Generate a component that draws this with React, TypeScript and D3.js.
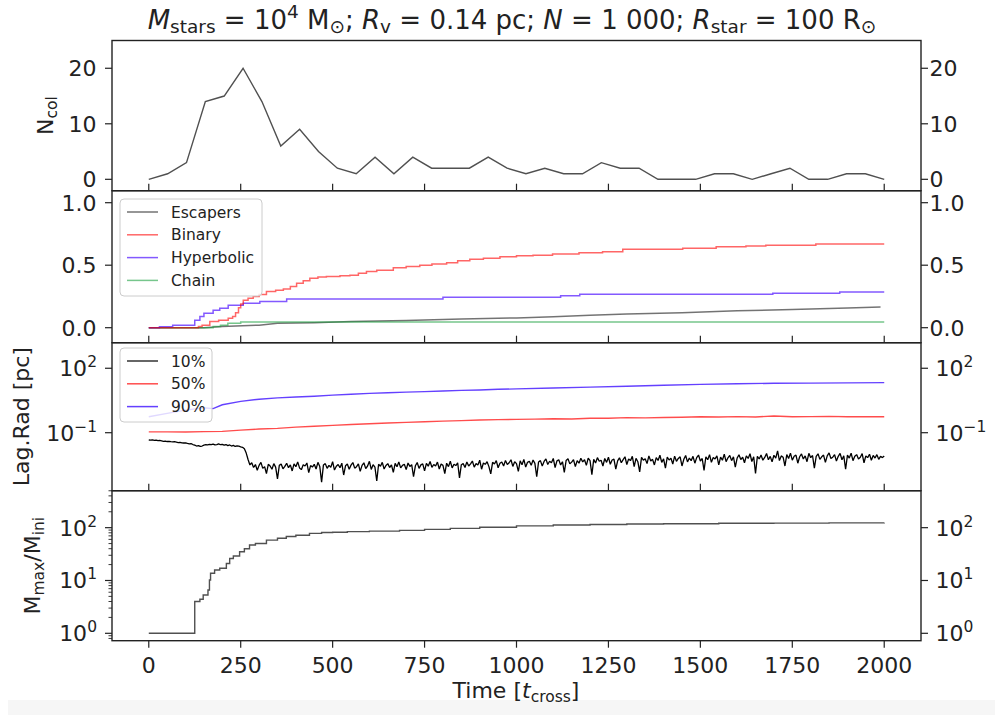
import React from 'react';
import * as d3 from 'd3';

const FONT = '"DejaVu Sans", sans-serif';

// collisions per time bin (40 bins from 0 to 2000)
const ncolCounts = [0, 1, 3, 14, 15, 20, 14, 6, 9, 5, 2, 1, 4, 1, 4, 2, 2, 2, 4, 2, 1, 2, 1, 1, 3, 2, 2, 0, 0, 0, 1, 1, 0, 1, 2, 0, 0, 1, 1, 0];

// cumulative fractions [time, fraction]
const escapers: [number, number][] = [
  [0, 0], [150, 0], [200, 0.01], [300, 0.02], [350, 0.035], [450, 0.04], [550, 0.05], [700, 0.058],
  [850, 0.07], [1000, 0.078], [1100, 0.088], [1200, 0.1], [1300, 0.11], [1450, 0.12], [1600, 0.135],
  [1750, 0.145], [1900, 0.158], [1990, 0.165],
];
const binary: [number, number][] = [
  [0, 0], [125, 0], [135, 0.01], [145, 0.02], [166, 0.05], [190, 0.06], [216, 0.075], [228, 0.09],
  [236, 0.12], [244, 0.16], [250, 0.19], [257, 0.22], [270, 0.235], [284, 0.25], [300, 0.265],
  [320, 0.29], [345, 0.3], [366, 0.31], [385, 0.33], [402, 0.355], [420, 0.375], [438, 0.395],
  [460, 0.405], [483, 0.41], [520, 0.415], [547, 0.42], [570, 0.435], [592, 0.45], [620, 0.46],
  [665, 0.48], [700, 0.49], [737, 0.5], [770, 0.51], [810, 0.52], [840, 0.535], [873, 0.547],
  [910, 0.555], [955, 0.568], [1000, 0.575], [1045, 0.58], [1098, 0.59], [1170, 0.6], [1234, 0.608],
  [1289, 0.627], [1452, 0.635], [1543, 0.648], [1624, 0.653], [1678, 0.66], [1814, 0.67], [2000, 0.67],
];
const hyperbolic: [number, number][] = [
  [0, 0], [29, 0.008], [65, 0.02], [125, 0.06], [139, 0.09], [150, 0.115], [175, 0.14], [193, 0.155],
  [216, 0.18], [257, 0.195], [302, 0.21], [375, 0.23], [800, 0.243], [1120, 0.255], [1172, 0.267],
  [1697, 0.275], [1879, 0.285], [2000, 0.285],
];
const chain: [number, number][] = [
  [0, 0], [160, 0], [175, 0.01], [195, 0.02], [215, 0.035], [250, 0.045], [2000, 0.045],
];

// 10% lagrangian radius, log10(r / pc), sampled every 5 t_cross from 0 to 2000
const lag10Log = [
  -1.34, -1.35, -1.33, -1.36, -1.35, -1.37, -1.36, -1.38, -1.40, -1.39, -1.41, -1.40, -1.42, -1.43, -1.42, -1.44, -1.46, -1.45, -1.47, -1.48,
  -1.47, -1.50, -1.52, -1.51, -1.55, -1.58, -1.62, -1.60, -1.64, -1.62, -1.58, -1.56, -1.57, -1.54, -1.56, -1.53, -1.57, -1.55, -1.52, -1.56,
  -1.54, -1.58, -1.55, -1.60, -1.57, -1.62, -1.59, -1.64, -1.61, -1.63, -1.66, -1.68, -1.75, -1.95, -2.25, -2.50,
  -2.40, -2.62, -2.48, -2.75, -2.52, -2.38, -2.66, -2.58, -2.90, -2.47, -2.55, -2.70, -2.44, -2.60, -3.15, -2.52, -2.46, -2.68, -2.57, -2.42,
  -2.63, -2.50, -2.78, -2.45, -2.58, -2.36, -2.64, -2.72, -2.49, -2.55, -2.41, -2.86, -2.53, -2.60, -2.47, -2.69, -2.38, -2.57, -3.30, -2.50,
  -2.44, -2.66, -2.52, -2.61, -2.35, -2.74, -2.56, -2.48, -2.63, -2.42, -2.97, -2.54, -2.46, -2.70, -2.51, -2.39, -2.65, -2.58, -2.45, -2.80,
  -2.52, -2.40, -2.67, -2.55, -2.33, -2.71, -2.49, -2.60, -3.25, -2.47, -2.56, -2.38, -2.69, -2.53, -2.44, -2.62, -2.50, -2.85, -2.43, -2.58,
  -2.36, -2.64, -2.52, -2.47, -2.72, -2.41, -2.57, -2.49, -3.05, -2.54, -2.39, -2.66, -2.50, -2.45, -2.78, -2.43, -2.56, -2.34, -2.61, -2.48,
  -2.55, -2.37, -2.69, -2.46, -2.52, -2.90, -2.42, -2.58, -2.33, -2.64, -2.47, -2.53, -2.40, -3.10, -2.49, -2.44, -2.62, -2.36, -2.55, -2.45,
  -2.32, -2.60, -2.44, -2.50, -2.28, -2.70, -2.41, -2.47, -2.35, -2.58, -2.92, -2.38, -2.46, -2.30, -2.63, -2.42, -2.36, -2.55, -2.29, -2.48,
  -2.40, -2.26, -2.57, -2.35, -2.44, -2.80, -2.31, -2.49, -2.24, -2.60, -2.38, -2.33, -2.52, -2.27, -2.43, -3.05, -2.36, -2.30, -2.55, -2.34,
  -2.22, -2.48, -2.33, -2.40, -2.20, -2.62, -2.31, -2.26, -2.50, -2.35, -2.85, -2.29, -2.21, -2.45, -2.37, -2.25, -2.58, -2.30, -2.42, -2.19,
  -2.36, -2.26, -2.52, -2.18, -2.30, -2.95, -2.24, -2.41, -2.16, -2.33, -2.28, -2.55, -2.20, -2.38, -2.14, -2.47, -2.27, -2.23, -2.70, -2.31,
  -2.17, -2.40, -2.25, -2.12, -2.48, -2.22, -2.30, -2.10, -2.58, -2.19, -2.35, -2.82, -2.15, -2.28, -2.21, -2.44, -2.08, -2.32, -2.24, -2.50,
  -2.16, -2.29, -2.05, -2.38, -2.22, -2.65, -2.14, -2.27, -2.19, -2.46, -2.09, -2.33, -2.20, -2.12, -2.55, -2.24, -2.06, -2.36, -2.18, -2.30,
  -2.10, -2.42, -2.16, -2.04, -2.32, -2.20, -2.75, -2.12, -2.26, -2.02, -2.38, -2.15, -2.22, -2.08, -2.50, -2.14, -2.28, -2.00, -2.35, -2.17,
  -2.06, -2.30, -2.12, -2.60, -2.18, -2.03, -2.25, -2.14, -2.40, -2.08, -2.20, -1.98, -2.34, -2.12, -2.90, -2.10, -2.22, -2.04, -2.28, -2.15,
  -1.97, -2.26, -2.10, -2.36, -2.05, -2.18, -1.85, -2.30, -2.08, -2.14, -2.55, -2.02, -2.20, -1.95, -2.28, -2.10, -2.04, -2.42, -2.12, -1.99,
  -2.22, -2.08, -2.35, -1.96, -2.16, -2.06, -2.65, -2.10, -1.98, -2.24, -2.12, -2.04, -2.38, -2.08, -1.94, -2.20, -2.14, -2.02, -2.32, -2.10,
  -1.96, -2.26, -2.08, -2.70, -2.04, -2.18, -1.95, -2.30, -2.10, -2.02, -2.22, -2.14, -1.97, -2.40, -2.08, -2.16, -2.00, -2.28, -2.06, -2.18,
  -2.02, -2.24, -2.10, -2.16, -2.08,
];
const lag50Log: [number, number][] = [
  [0, -0.96], [50, -0.96], [100, -0.97], [150, -0.95], [200, -0.94], [250, -0.88], [300, -0.83],
  [350, -0.80], [400, -0.74], [450, -0.70], [500, -0.66], [550, -0.62], [600, -0.58], [650, -0.55],
  [700, -0.52], [750, -0.49], [800, -0.46], [850, -0.44], [900, -0.41], [950, -0.39], [1000, -0.38],
  [1050, -0.37], [1100, -0.35], [1150, -0.36], [1200, -0.33], [1250, -0.33], [1300, -0.30],
  [1350, -0.31], [1400, -0.29], [1450, -0.28], [1500, -0.26], [1550, -0.27], [1600, -0.25],
  [1650, -0.27], [1700, -0.22], [1750, -0.26], [1800, -0.25], [1850, -0.24], [1900, -0.26],
  [1950, -0.25], [2000, -0.26],
];
const lag90Log: [number, number][] = [
  [0, -0.26], [50, -0.10], [100, 0.05], [150, 0.16], [175, 0.12], [200, 0.30], [250, 0.46],
  [300, 0.56], [350, 0.62], [400, 0.66], [450, 0.70], [500, 0.75], [550, 0.79], [600, 0.83],
  [650, 0.86], [700, 0.89], [750, 0.91], [800, 0.94], [850, 0.97], [900, 0.99], [950, 1.02],
  [1000, 1.04], [1100, 1.08], [1200, 1.12], [1300, 1.16], [1400, 1.21], [1500, 1.25], [1600, 1.28],
  [1700, 1.30], [1800, 1.31], [1900, 1.32], [2000, 1.33],
];

// most massive star / initial mass
const massRatio: [number, number][] = [
  [0, 1], [125, 4], [139, 4.4], [148, 5.3], [161, 6.6], [165, 10.2], [168, 13.7], [179, 15.8],
  [193, 17], [211, 21], [220, 26], [230, 29], [247, 35], [260, 40], [274, 47], [290, 50], [320, 58],
  [350, 63], [374, 68], [400, 72], [437, 78], [470, 81], [500, 82], [540, 84], [600, 86], [682, 89],
  [750, 93], [820, 97], [900, 102], [1000, 108], [1100, 112], [1200, 115], [1300, 117], [1400, 119],
  [1550, 121], [1700, 122], [1850, 123], [2000, 124],
];

const timeTicks = [0, 250, 500, 750, 1000, 1250, 1500, 1750, 2000];

const TICK_FS = 22;
const SUB_FS = 15.5;
const LEFT = 112;
const RIGHT = 921;
const P1: [number, number] = [40.5, 190.7];
const P2: [number, number] = [190.7, 342.7];
const P3: [number, number] = [342.7, 490.7];
const P4: [number, number] = [490.7, 640.7];

const x = d3.scaleLinear().domain([-100, 2100]).range([LEFT, RIGHT]);
const y1 = d3.scaleLinear().domain([-2.05, 25]).range([P1[1], P1[0]]);
const y2 = d3.scaleLinear().domain([-0.12, 1.096]).range([P2[1], P2[0]]);
const y3 = d3.scaleLog().domain([10 ** -3.7, 10 ** 3.19]).range([P3[1], P3[0]]);
const y4 = d3.scaleLog().domain([10 ** -0.14, 10 ** 2.7]).range([P4[1], P4[0]]);

function LinearYTicks({ scale, ticks, fmt }: { scale: any; ticks: number[]; fmt: (v: number) => string }) {
  return (
    <g>
      {ticks.map((t) => (
        <g key={t}>
          <line x1={LEFT - 7} x2={LEFT} y1={scale(t)} y2={scale(t)} stroke="#222" strokeWidth={1.2} />
          <line x1={RIGHT} x2={RIGHT + 7} y1={scale(t)} y2={scale(t)} stroke="#222" strokeWidth={1.2} />
          <text x={96.5} y={scale(t) + 8} textAnchor="end" fontSize={TICK_FS}>{fmt(t)}</text>
          <text x={929.5} y={scale(t) + 8} fontSize={TICK_FS}>{fmt(t)}</text>
        </g>
      ))}
    </g>
  );
}

function LogYTicks({ scale, exps, minor }: { scale: any; exps: number[]; minor?: number[] }) {
  const lab = (e: number) => (e < 0 ? `\u2212${-e}` : `${e}`);
  return (
    <g>
      {(minor || []).map((m) => (
        <line key={'m' + m} x1={LEFT - 3.5} x2={LEFT} y1={scale(m)} y2={scale(m)} stroke="#222" strokeWidth={0.9} />
      ))}
      {exps.map((e) => {
        const yy = scale(10 ** e);
        return (
          <g key={e}>
            <line x1={LEFT - 7} x2={LEFT} y1={yy} y2={yy} stroke="#222" strokeWidth={1.2} />
            <line x1={RIGHT} x2={RIGHT + 7} y1={yy} y2={yy} stroke="#222" strokeWidth={1.2} />
            <text x={97} y={yy + 8} textAnchor="end" fontSize={TICK_FS}>
              10<tspan dy={-9} fontSize={SUB_FS}>{lab(e)}</tspan>
            </text>
            <text x={935.5} y={yy + 8} fontSize={TICK_FS}>
              10<tspan dy={-9} fontSize={SUB_FS}>{lab(e)}</tspan>
            </text>
          </g>
        );
      })}
    </g>
  );
}

function InnerXTicks({ bottom }: { bottom: number }) {
  return (
    <g>
      {timeTicks.map((t) => (
        <line key={t} x1={x(t)} x2={x(t)} y1={bottom - 7} y2={bottom} stroke="#222" strokeWidth={1.2} />
      ))}
    </g>
  );
}

function Legend({ top, height, width, items }: { top: number; height: number; width: number; items: { label: string; color: string; op: number }[] }) {
  return (
    <g>
      <rect x={120} y={top} width={width} height={height} rx={4} fill="#fff" fillOpacity={0.8} stroke="#cccccc" strokeWidth={1} />
      {items.map((it, i) => {
        const yy = top + 13 + i * 22.8;
        return (
          <g key={it.label}>
            <line x1={127} x2={158} y1={yy} y2={yy} stroke={it.color} strokeOpacity={it.op} strokeWidth={1.5} />
            <text x={171} y={yy + 5.5} fontSize={15.5}>{it.label}</text>
          </g>
        );
      })}
    </g>
  );
}

export default function App() {
  const ncolPts: [number, number][] = ncolCounts.map((c, i) => [(i * 2000) / 39, c]);
  const lag10Pts: [number, number][] = lag10Log.map((v, i) => [i * 5, v]);

  const line1 = d3.line<[number, number]>().x((d) => x(d[0])).y((d) => y1(d[1]));
  const step2 = d3.line<[number, number]>().x((d) => x(d[0])).y((d) => y2(d[1])).curve(d3.curveStepAfter);
  const lin2 = d3.line<[number, number]>().x((d) => x(d[0])).y((d) => y2(d[1]));
  const line3 = d3.line<[number, number]>().x((d) => x(d[0])).y((d) => y3(10 ** d[1]));
  const step4 = d3.line<[number, number]>().x((d) => x(d[0])).y((d) => y4(d[1])).curve(d3.curveStepAfter);

  const minor4: number[] = [];
  [1, 10, 100].forEach((dec) => {
    for (let k = 2; k <= 9; k++) {
      const v = dec * k;
      if (v < 10 ** 2.7) minor4.push(v);
    }
  });
  minor4.push(0.8, 0.9);

  const W = RIGHT - LEFT;

  return (
    <svg width={995} height={715} style={{ position: 'absolute', left: 0, top: 0, background: '#fff' }} fontFamily={FONT} fill="#222">
      <defs>
        <clipPath id="c3"><rect x={LEFT} y={P3[0]} width={W} height={P3[1] - P3[0]} /></clipPath>
      </defs>
      <rect x={8} y={700} width={987} height={15} fill="#f6f6f6" />

      {/* title */}
      <text x={512} y={29} textAnchor="middle" fontSize={26}>
        <tspan fontStyle="italic">M</tspan>
        <tspan fontSize={18.5} dy={4}>stars</tspan>
        <tspan dy={-4}> = 10</tspan>
        <tspan fontSize={18.5} dy={-11}>4</tspan>
        <tspan dy={11}> M</tspan>
        <tspan fontSize={18.5} dy={4}>⊙</tspan>
        <tspan dy={-4}>; </tspan>
        <tspan fontStyle="italic">R</tspan>
        <tspan fontSize={18.5} dy={4}>v</tspan>
        <tspan dy={-4}> = 0.14 pc; </tspan>
        <tspan fontStyle="italic">N</tspan>
        <tspan> = 1 000; </tspan>
        <tspan fontStyle="italic">R</tspan>
        <tspan fontSize={18.5} dy={4}>star</tspan>
        <tspan dy={-4}> = 100 R</tspan>
        <tspan fontSize={18.5} dy={4}>⊙</tspan>
      </text>

      {/* panel 1: collisions */}
      <path d={line1(ncolPts) || ''} fill="none" stroke="#505050" strokeWidth={1.4} />
      <InnerXTicks bottom={P1[1]} />
      <LinearYTicks scale={y1} ticks={[0, 10, 20]} fmt={(v) => `${v}`} />
      <rect x={LEFT} y={P1[0]} width={W} height={P1[1] - P1[0]} fill="none" stroke="#222" strokeWidth={1.4} />

      {/* panel 2: fractions */}
      <path d={lin2(escapers) || ''} fill="none" stroke="#000" strokeOpacity={0.55} strokeWidth={1.5} />
      <path d={step2(chain) || ''} fill="none" stroke="#1aa040" strokeOpacity={0.6} strokeWidth={1.5} />
      <path d={step2(hyperbolic) || ''} fill="none" stroke="#4000ff" strokeOpacity={0.65} strokeWidth={1.5} />
      <path d={step2(binary) || ''} fill="none" stroke="#ff0000" strokeOpacity={0.6} strokeWidth={1.5} />
      <Legend top={199} height={97} width={142} items={[
        { label: 'Escapers', color: '#000', op: 0.55 },
        { label: 'Binary', color: '#ff0000', op: 0.6 },
        { label: 'Hyperbolic', color: '#4000ff', op: 0.65 },
        { label: 'Chain', color: '#1aa040', op: 0.6 },
      ]} />
      <InnerXTicks bottom={P2[1]} />
      <LinearYTicks scale={y2} ticks={[0, 0.5, 1]} fmt={(v) => v.toFixed(1)} />
      <rect x={LEFT} y={P2[0]} width={W} height={P2[1] - P2[0]} fill="none" stroke="#222" strokeWidth={1.4} />

      {/* panel 3: lagrangian radii */}
      <g clipPath="url(#c3)">
        <path d={line3(lag90Log) || ''} fill="none" stroke="#3000ff" strokeOpacity={0.75} strokeWidth={1.4} />
        <path d={line3(lag50Log) || ''} fill="none" stroke="#ff0000" strokeOpacity={0.7} strokeWidth={1.4} />
        <path d={line3(lag10Pts) || ''} fill="none" stroke="#000" strokeWidth={1.3} strokeLinejoin="bevel" />
      </g>
      <Legend top={348} height={74} width={92} items={[
        { label: '10%', color: '#000', op: 0.8 },
        { label: '50%', color: '#ff0000', op: 0.7 },
        { label: '90%', color: '#3000ff', op: 0.75 },
      ]} />
      <InnerXTicks bottom={P3[1]} />
      <LogYTicks scale={y3} exps={[-1, 2]} />
      <rect x={LEFT} y={P3[0]} width={W} height={P3[1] - P3[0]} fill="none" stroke="#222" strokeWidth={1.4} />

      {/* panel 4: mass ratio */}
      <path d={step4(massRatio) || ''} fill="none" stroke="#505050" strokeWidth={1.4} />
      <LogYTicks scale={y4} exps={[0, 1, 2]} minor={minor4} />
      <rect x={LEFT} y={P4[0]} width={W} height={P4[1] - P4[0]} fill="none" stroke="#222" strokeWidth={1.4} />
      {timeTicks.map((t) => (
        <g key={t}>
          <line x1={x(t)} x2={x(t)} y1={P4[1]} y2={P4[1] + 7} stroke="#222" strokeWidth={1.2} />
          <text x={x(t)} y={673} textAnchor="middle" fontSize={TICK_FS}>{t}</text>
        </g>
      ))}

      {/* axis labels */}
      <text transform="translate(53,115.6) rotate(-90)" textAnchor="middle" fontSize={22}>
        N<tspan fontSize={SUB_FS} dy={4}>col</tspan>
      </text>
      <text transform="translate(29,416.7) rotate(-90)" textAnchor="middle" fontSize={22}>Lag.Rad [pc]</text>
      <text transform="translate(40,565.7) rotate(-90)" textAnchor="middle" fontSize={22}>
        M<tspan fontSize={SUB_FS} dy={4}>max</tspan><tspan dy={-4}>/M</tspan><tspan fontSize={SUB_FS} dy={4}>ini</tspan>
      </text>
      <text x={516} y={698} textAnchor="middle" fontSize={22}>
        Time [<tspan fontStyle="italic">t</tspan><tspan fontSize={SUB_FS} dy={4}>cross</tspan><tspan dy={-4}>]</tspan>
      </text>
    </svg>
  );
}
